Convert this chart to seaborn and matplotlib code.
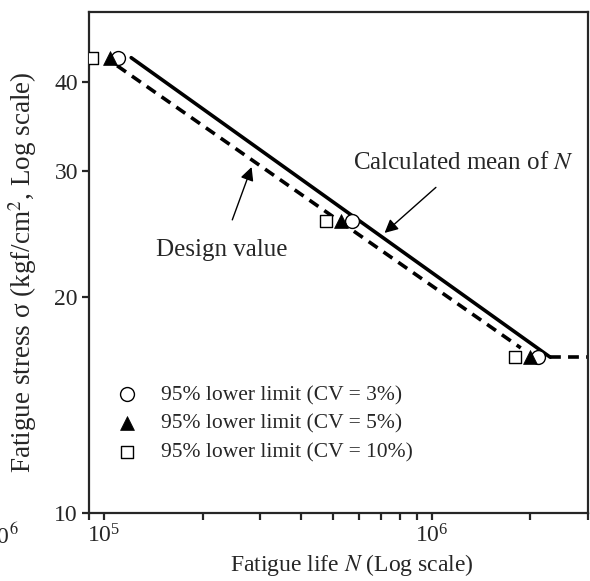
import seaborn as sns
import matplotlib.pyplot as plt
import matplotlib.ticker as mticker
import pandas as pd

# data
stress_pts = [43.2, 25.6, 16.5]
life_cv3 = [1.10e5, 5.7e5, 2.11e6]
life_cv5 = [1.04e5, 5.3e5, 1.99e6]
life_cv10 = [9.2e4, 4.77e5, 1.79e6]

mean_life = [1.21e5, 2.3e6]
mean_stress = [43.2, 16.5]
design_life = [1.096e5, 1.87e6]
design_stress = [42.1, 17.0]
tail_life = [2.3e6, 3.0e6]
tail_stress = [16.5, 16.5]

labels = ["95% lower limit (CV = 3%)", "95% lower limit (CV = 5%)", "95% lower limit (CV = 10%)"]

sns.set_style("ticks")
plt.rcParams['font.family'] = ['Liberation Serif', 'DejaVu Serif']
plt.rcParams['mathtext.fontset'] = 'stix'

fig = plt.figure(figsize=(5.9, 5.81), dpi=100)
ax = fig.add_axes([0.151, 0.117, 0.8456, 0.862])

sns.lineplot(x=mean_life, y=mean_stress, ax=ax, color="black", lw=2.6)
sns.lineplot(x=design_life, y=design_stress, ax=ax, color="black", lw=2.6, linestyle=(0, (3, 2)))
sns.lineplot(x=tail_life, y=tail_stress, ax=ax, color="black", lw=2.6, linestyle=(0, (3, 2)))

pts = pd.DataFrame({
    "life": life_cv3 + life_cv5 + life_cv10,
    "stress": stress_pts * 3,
    "group": [labels[0]] * 3 + [labels[1]] * 3 + [labels[2]] * 3,
})
sns.scatterplot(data=pts[pts.group == labels[0]], x="life", y="stress", ax=ax, marker="o", s=100,
                facecolor="white", edgecolor="black", linewidth=1.0, label=labels[0], zorder=5)
sns.scatterplot(data=pts[pts.group == labels[1]], x="life", y="stress", ax=ax, marker="^", s=100,
                color="black", edgecolor="black", linewidth=0.5, label=labels[1], zorder=5)
sns.scatterplot(data=pts[pts.group == labels[2]], x="life", y="stress", ax=ax, marker="s", s=80,
                facecolor="white", edgecolor="black", linewidth=1.0, label=labels[2], zorder=5)

ax.set_xscale("log")
ax.set_yscale("log")
ax.set_xlim(9e4, 3e6)
ax.set_ylim(10, 50)
ax.yaxis.set_major_locator(mticker.FixedLocator([10, 20, 30, 40]))
ax.yaxis.set_major_formatter(mticker.FixedFormatter(["10", "20", "30", "40"]))
ax.yaxis.set_minor_locator(mticker.NullLocator())
ax.xaxis.set_major_locator(mticker.LogLocator(base=10))
ax.xaxis.set_minor_locator(mticker.LogLocator(base=10, subs=range(2, 10)))
ax.xaxis.set_minor_formatter(mticker.NullFormatter())

for s in ax.spines.values():
    s.set_linewidth(1.6)
    s.set_visible(True)
ax.tick_params(axis="both", which="both", direction="out", width=1.6, length=5,
               labelsize=17, top=False, right=False, pad=3)

ax.set_xlabel("Fatigue life $N$ (Log scale)", fontsize=17)
ax.set_ylabel("Fatigue stress σ (kgf/cm$^2$, Log scale)", fontsize=19.5)
ax.xaxis.set_label_coords(0.527, -0.078)
ax.yaxis.set_label_coords(-0.100, 0.481)

ax.annotate("Calculated mean of $N$", xy=(7.18e5, 24.6), xytext=(1.25e6, 30.8),
            ha="center", va="center", fontsize=18,
            arrowprops=dict(arrowstyle="-|>", color="black", lw=1.0, mutation_scale=20,
                            shrinkA=11, shrinkB=0))
ax.annotate("Design value", xy=(2.82e5, 30.4), xytext=(2.28e5, 23.3),
            ha="center", va="center", fontsize=18,
            arrowprops=dict(arrowstyle="-|>", color="black", lw=1.0, mutation_scale=20,
                            shrinkA=12, shrinkB=0))

ax.legend(loc="lower left", bbox_to_anchor=(0.02, 0.071), frameon=False, fontsize=15.5,
          handletextpad=1.0, labelspacing=0.4, handlelength=1.2, borderaxespad=0.3)

# stray label from the neighbouring panel
fig.text(0.031, 0.077, "10$^6$", ha="right", va="center", fontsize=17)

fig.savefig("out.png", dpi=100)
